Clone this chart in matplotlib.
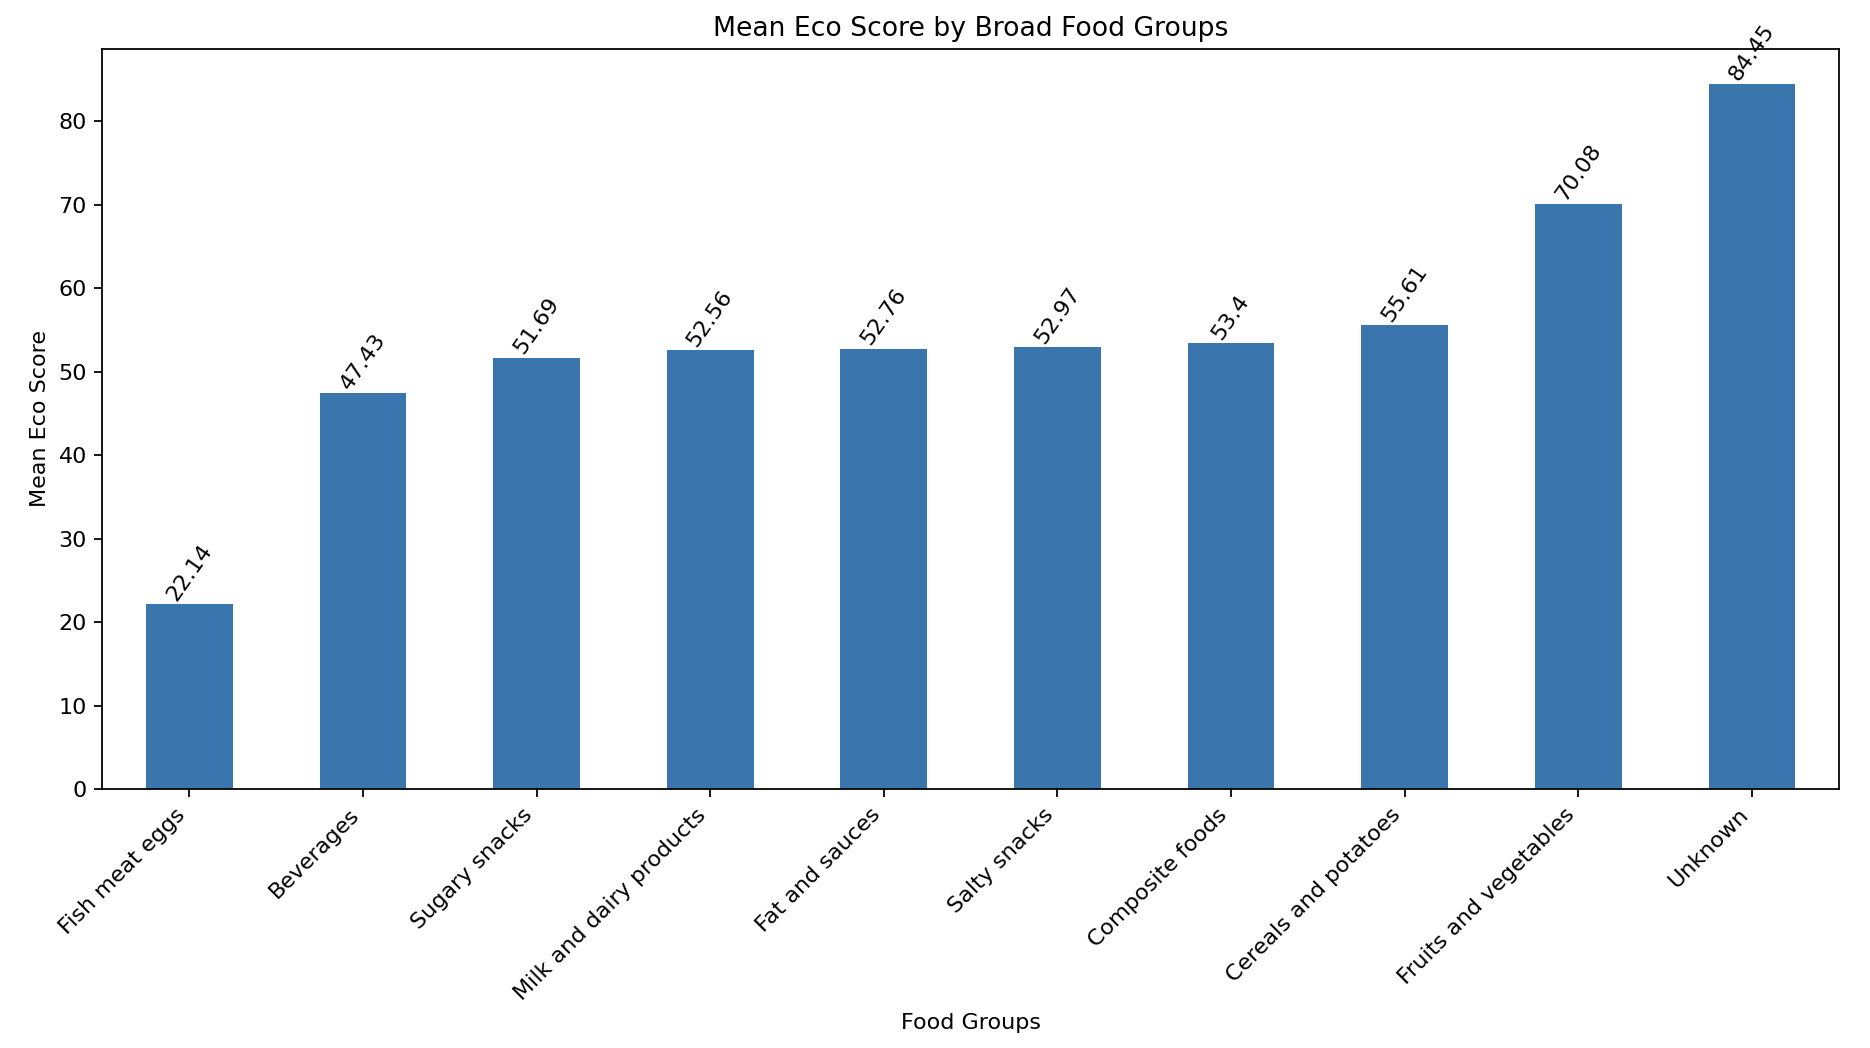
import matplotlib
matplotlib.use("Agg")
import matplotlib.pyplot as plt

categories = ["Fish meat eggs", "Beverages", "Sugary snacks", "Milk and dairy products",
              "Fat and sauces", "Salty snacks", "Composite foods", "Cereals and potatoes",
              "Fruits and vegetables", "Unknown"]
values = [22.14, 47.43, 51.69, 52.56, 52.76, 52.97, 53.4, 55.61, 70.08, 84.45]

fig = plt.figure(figsize=(1870/160, 1048/160), dpi=160)
left, right, bottom, top = 0.0548, 0.9833, 0.2471, 0.9534
ax = fig.add_axes([left, bottom, right - left, top - bottom])
x = list(range(len(categories)))
ax.bar(x, values, width=0.5, color="#3a75ae")
ax.set_xlim(-0.5, len(categories) - 0.5)
ax.set_ylim(0, max(values) * 1.05)
ax.set_xticks(x)
ax.set_xticklabels(categories, rotation=45, ha="right")
for xi, v in zip(x, values):
    ax.text(xi, v, str(v), ha="center", va="bottom", rotation=55)
ax.set_title("Mean Eco Score by Broad Food Groups")
ax.set_xlabel("Food Groups")
ax.set_ylabel("Mean Eco Score")
fig.savefig("out.png", dpi=160)
